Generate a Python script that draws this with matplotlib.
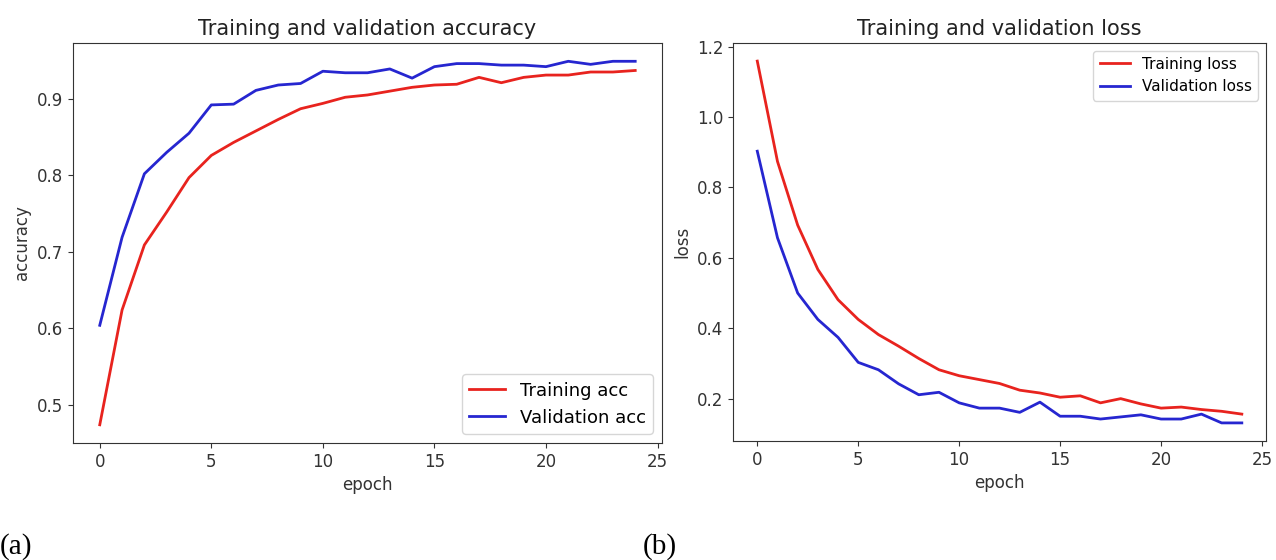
import matplotlib
matplotlib.use('Agg')
import matplotlib.pyplot as plt
import numpy as np

# epochs 0..24
epochs = list(range(25))

train_acc = [0.474, 0.624, 0.709, 0.752, 0.797, 0.826, 0.843, 0.858, 0.873, 0.887,
             0.894, 0.902, 0.905, 0.910, 0.915, 0.918, 0.919, 0.928, 0.921, 0.928,
             0.931, 0.931, 0.935, 0.935, 0.937]
val_acc = [0.604, 0.719, 0.802, 0.830, 0.855, 0.892, 0.893, 0.911, 0.918, 0.920,
           0.936, 0.934, 0.934, 0.939, 0.927, 0.942, 0.946, 0.946, 0.944, 0.944,
           0.942, 0.949, 0.945, 0.949, 0.949]

train_loss = [1.159, 0.874, 0.693, 0.567, 0.481, 0.425, 0.382, 0.349, 0.314, 0.282,
              0.265, 0.254, 0.243, 0.224, 0.216, 0.204, 0.208, 0.188, 0.200, 0.185,
              0.173, 0.176, 0.169, 0.164, 0.156]
val_loss = [0.903, 0.657, 0.500, 0.425, 0.374, 0.303, 0.282, 0.242, 0.211, 0.218,
            0.188, 0.173, 0.173, 0.161, 0.190, 0.150, 0.150, 0.142, 0.148, 0.154,
            0.142, 0.142, 0.156, 0.131, 0.131]

fig = plt.figure(figsize=(12.76, 5.6), dpi=100)

# --- (a) accuracy ---
ax1 = fig.add_axes([0.0572, 0.209, 0.4616, 0.714])
ax1.plot(epochs, train_acc, color='#e8231e', lw=2, label='Training acc')
ax1.plot(epochs, val_acc, color='#2626d0', lw=2, label='Validation acc')
ax1.set_title('Training and validation accuracy', fontsize=15, color='#222222')
ax1.set_xlabel('epoch', fontsize=12, color='#333333')
ax1.set_ylabel('accuracy', fontsize=12, color='#333333')
ax1.set_xticks([0, 5, 10, 15, 20, 25])
ax1.set_yticks([0.5, 0.6, 0.7, 0.8, 0.9])
ax1.tick_params(labelsize=12, colors='#333333')
ax1.legend(loc='lower right', fontsize=13)

# --- (b) loss ---
ax2 = fig.add_axes([0.5745, 0.2125, 0.4177, 0.7107])
ax2.plot(epochs, train_loss, color='#e8231e', lw=2, label='Training loss')
ax2.plot(epochs, val_loss, color='#2626d0', lw=2, label='Validation loss')
ax2.set_title('Training and validation loss', fontsize=15, color='#222222')
ax2.set_xlabel('epoch', fontsize=12, color='#333333')
ax2.set_ylabel('loss', fontsize=12, color='#333333')
ax2.set_xticks([0, 5, 10, 15, 20, 25])
ax2.set_yticks([0.2, 0.4, 0.6, 0.8, 1.0, 1.2])
ax2.tick_params(labelsize=12, colors='#333333')
ax2.legend(loc='upper right', fontsize=11)

for ax in (ax1, ax2):
    for sp in ax.spines.values():
        sp.set_color('#333333')

fig.text(0.0, 0.0, '(a)', family='Liberation Serif', fontsize=21, va='bottom', ha='left')
fig.text(0.504, 0.0, '(b)', family='Liberation Serif', fontsize=21, va='bottom', ha='left')

fig.savefig('out.png', dpi=100)
